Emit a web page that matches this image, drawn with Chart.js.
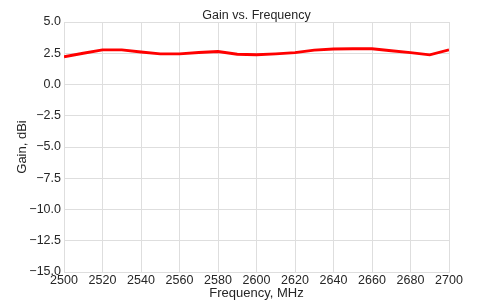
<!DOCTYPE html>
<html>
<head>
<meta charset="utf-8">
<script src="https://cdn.jsdelivr.net/npm/chart.js@4"></script>
<style>
  html, body { margin: 0; padding: 0; background: #fff; }
  #wrap { width: 482px; height: 301px; }
</style>
</head>
<body>
<div id="wrap"><canvas id="gainChart" width="482" height="301"></canvas></div>
<script>
// Frequency points (MHz) and measured gain (dBi)
const frequencies = [2500, 2510, 2520, 2530, 2540, 2550, 2560, 2570, 2580, 2590, 2600,
                     2610, 2620, 2630, 2640, 2650, 2660, 2670, 2680, 2690, 2700];
const gainValues = [2.22, 2.50, 2.77, 2.77, 2.60, 2.45, 2.45, 2.56, 2.64, 2.42, 2.38,
                    2.45, 2.55, 2.75, 2.84, 2.86, 2.86, 2.70, 2.55, 2.37, 2.77];
const xTicks = [2500, 2520, 2540, 2560, 2580, 2600, 2620, 2640, 2660, 2680, 2700];
const yTicks = [5.0, 2.5, 0.0, -2.5, -5.0, -7.5, -10.0, -12.5, -15.0];
const chartTitle = 'Gain vs. Frequency';

const textColor = '#262626';
const gridColor = '#dedede';
const fontFamily = '"Liberation Sans", Arial, sans-serif';

const points = frequencies.map((f, i) => ({ x: f, y: gainValues[i] }));

// title centred over the plot area, like matplotlib does
const plotTitle = {
    id: 'plotTitle',
    afterDraw(chart) {
        const { ctx, chartArea } = chart;
        ctx.save();
        ctx.fillStyle = textColor;
        ctx.font = '12.5px ' + fontFamily;
        ctx.textAlign = 'center';
        ctx.textBaseline = 'alphabetic';
        ctx.fillText(chartTitle, (chartArea.left + chartArea.right) / 2, 18.5);
        ctx.restore();
    }
};

const ctx = document.getElementById('gainChart').getContext('2d');
new Chart(ctx, {
    type: 'line',
    data: {
        datasets: [{
            label: 'Gain',
            data: points,
            borderColor: '#ff0000',
            borderWidth: 2.8,
            pointRadius: 0,
            tension: 0,
            fill: false
        }]
    },
    options: {
        responsive: false,
        animation: false,
        layout: { padding: { left: 15, right: 33, top: 22, bottom: 0 } },
        plugins: {
            legend: { display: false },
            tooltip: { enabled: false },
            title: { display: false }
        },
        scales: {
            x: {
                type: 'linear',
                min: 2500,
                max: 2700,
                afterBuildTicks: (scale) => { scale.ticks = xTicks.map(v => ({ value: v })); },
                afterFit: (scale) => { scale.height = 29; },
                ticks: {
                    color: textColor,
                    font: { family: fontFamily, size: 12.5 },
                    padding: 1,
                    maxRotation: 0,
                    autoSkip: false,
                    callback: (v) => String(v)
                },
                grid: { color: gridColor, drawTicks: false },
                border: { color: gridColor },
                title: {
                    display: true,
                    text: 'Frequency, MHz',
                    color: textColor,
                    font: { family: fontFamily, size: 13 },
                    padding: { top: 0, bottom: 0 }
                }
            },
            y: {
                min: -15,
                max: 5,
                afterBuildTicks: (scale) => { scale.ticks = yTicks.map(v => ({ value: v })); },
                afterFit: (scale) => { scale.width = 49; },
                ticks: {
                    color: textColor,
                    font: { family: fontFamily, size: 12.5 },
                    padding: 3,
                    autoSkip: false,
                    callback: (v) => v.toFixed(1).replace('-', '\u2212')
                },
                grid: { color: gridColor, drawTicks: false },
                border: { color: gridColor },
                title: {
                    display: true,
                    text: 'Gain, dBi',
                    color: textColor,
                    font: { family: fontFamily, size: 13 },
                    padding: { top: 0, bottom: 0 }
                }
            }
        }
    },
    plugins: [plotTitle]
});
</script>
</body>
</html>
